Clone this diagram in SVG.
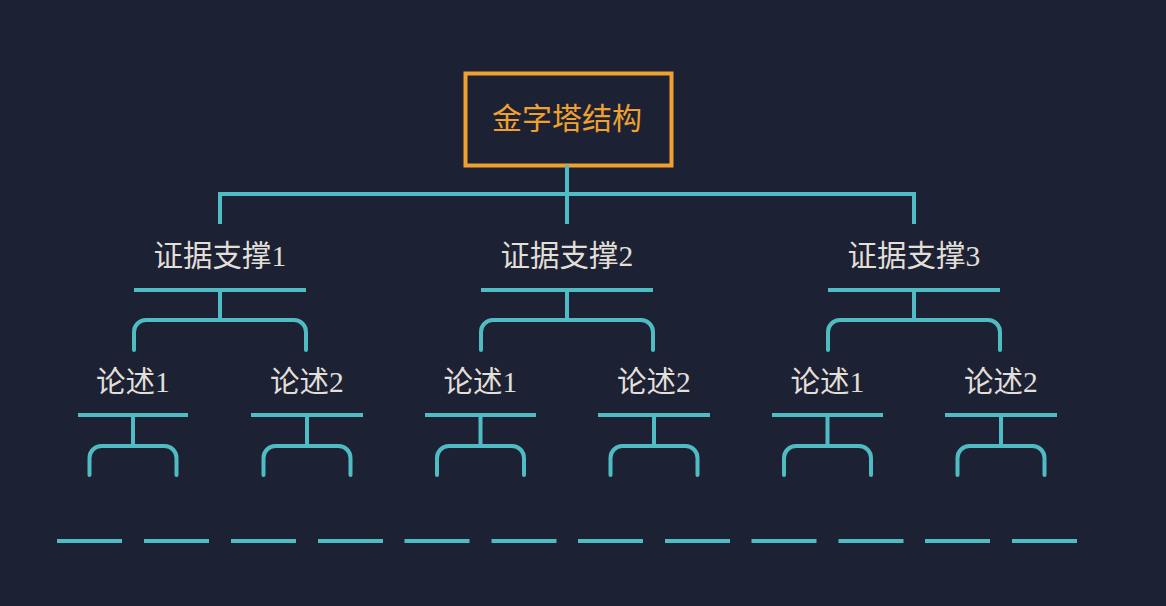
<svg xmlns="http://www.w3.org/2000/svg" width="1166" height="606" viewBox="0 0 1166 606">
<style>
.bg{fill:#1c2234}
.ln{fill:none;stroke:#4fbcc4;stroke-width:4;stroke-linejoin:miter}
.br{fill:none;stroke:#4fbcc4;stroke-width:4;stroke-linecap:round}
.ds{stroke:#4fbcc4;stroke-width:4}
.lbl{font-family:"Liberation Serif","Noto Sans CJK SC",serif;font-size:29.5px;fill:#e2dfd8;text-anchor:middle}
.ttl{font-family:"Liberation Serif","Noto Sans CJK SC",serif;font-size:30px;fill:#f0a02f;text-anchor:middle}
</style>
<defs>
<path id="br1" class="br" d="M-86,350 V332 A12,12 0 0 1 -74,320 H74 A12,12 0 0 1 86,332 V350"/>
<path id="br2" class="br" d="M-43.5,475 V458 A12,12 0 0 1 -31.5,446 H31.5 A12,12 0 0 1 43.5,458 V475"/>
</defs>
<rect class="bg" x="0" y="0" width="1166" height="606"/>
<g id="root">
<rect x="465.5" y="73.5" width="206" height="92" fill="none" stroke="#f0a02f" stroke-width="4"/>
<text class="ttl" x="567" y="129">金字塔结构</text>
</g>
<g id="connectors">
<path class="ln" d="M220,224 V194 H914 V224 M567,165 V224"/>
<g id="c1">
<path class="ln" d="M134,290 H306 M220,290 V320"/>
<use href="#br1" x="220"/>
</g>
<g id="c2">
<path class="ln" d="M481,290 H653 M567,290 V320"/>
<use href="#br1" x="567"/>
</g>
<g id="c3">
<path class="ln" d="M828,290 H1000 M914,290 V320"/>
<use href="#br1" x="914"/>
</g>
<path class="ln" d="M78,415 H188 M133,415 V446 M251,415 H363 M307,415 V446 M425,415 H536 M480.5,415 V446 M598,415 H710 M654,415 V446 M772,415 H883 M827.5,415 V446 M945,415 H1057 M1001,415 V446"/>
<use href="#br2" x="133"/>
<use href="#br2" x="307"/>
<use href="#br2" x="480.5"/>
<use href="#br2" x="654"/>
<use href="#br2" x="827.5"/>
<use href="#br2" x="1001"/>
<g id="dashes">
<line class="ds" x1="57" y1="541" x2="122" y2="541"/>
<line class="ds" x1="144" y1="541" x2="209" y2="541"/>
<line class="ds" x1="231" y1="541" x2="296" y2="541"/>
<line class="ds" x1="318" y1="541" x2="383" y2="541"/>
<line class="ds" x1="404.5" y1="541" x2="469.5" y2="541"/>
<line class="ds" x1="491.5" y1="541" x2="556.5" y2="541"/>
<line class="ds" x1="578" y1="541" x2="643" y2="541"/>
<line class="ds" x1="665" y1="541" x2="730" y2="541"/>
<line class="ds" x1="751.5" y1="541" x2="816.5" y2="541"/>
<line class="ds" x1="838.5" y1="541" x2="903.5" y2="541"/>
<line class="ds" x1="925" y1="541" x2="990" y2="541"/>
<line class="ds" x1="1012" y1="541" x2="1077" y2="541"/>
</g>
</g>
<g id="n1"><text class="lbl" x="220" y="266">证据支撑1</text></g>
<g id="n2"><text class="lbl" x="567" y="266">证据支撑2</text></g>
<g id="n3"><text class="lbl" x="914" y="266">证据支撑3</text></g>
<g id="n11"><text class="lbl" x="133" y="392">论述1</text></g>
<g id="n12"><text class="lbl" x="307" y="392">论述2</text></g>
<g id="n21"><text class="lbl" x="480.5" y="392">论述1</text></g>
<g id="n22"><text class="lbl" x="654" y="392">论述2</text></g>
<g id="n31"><text class="lbl" x="827.5" y="392">论述1</text></g>
<g id="n32"><text class="lbl" x="1001" y="392">论述2</text></g>
</svg>
